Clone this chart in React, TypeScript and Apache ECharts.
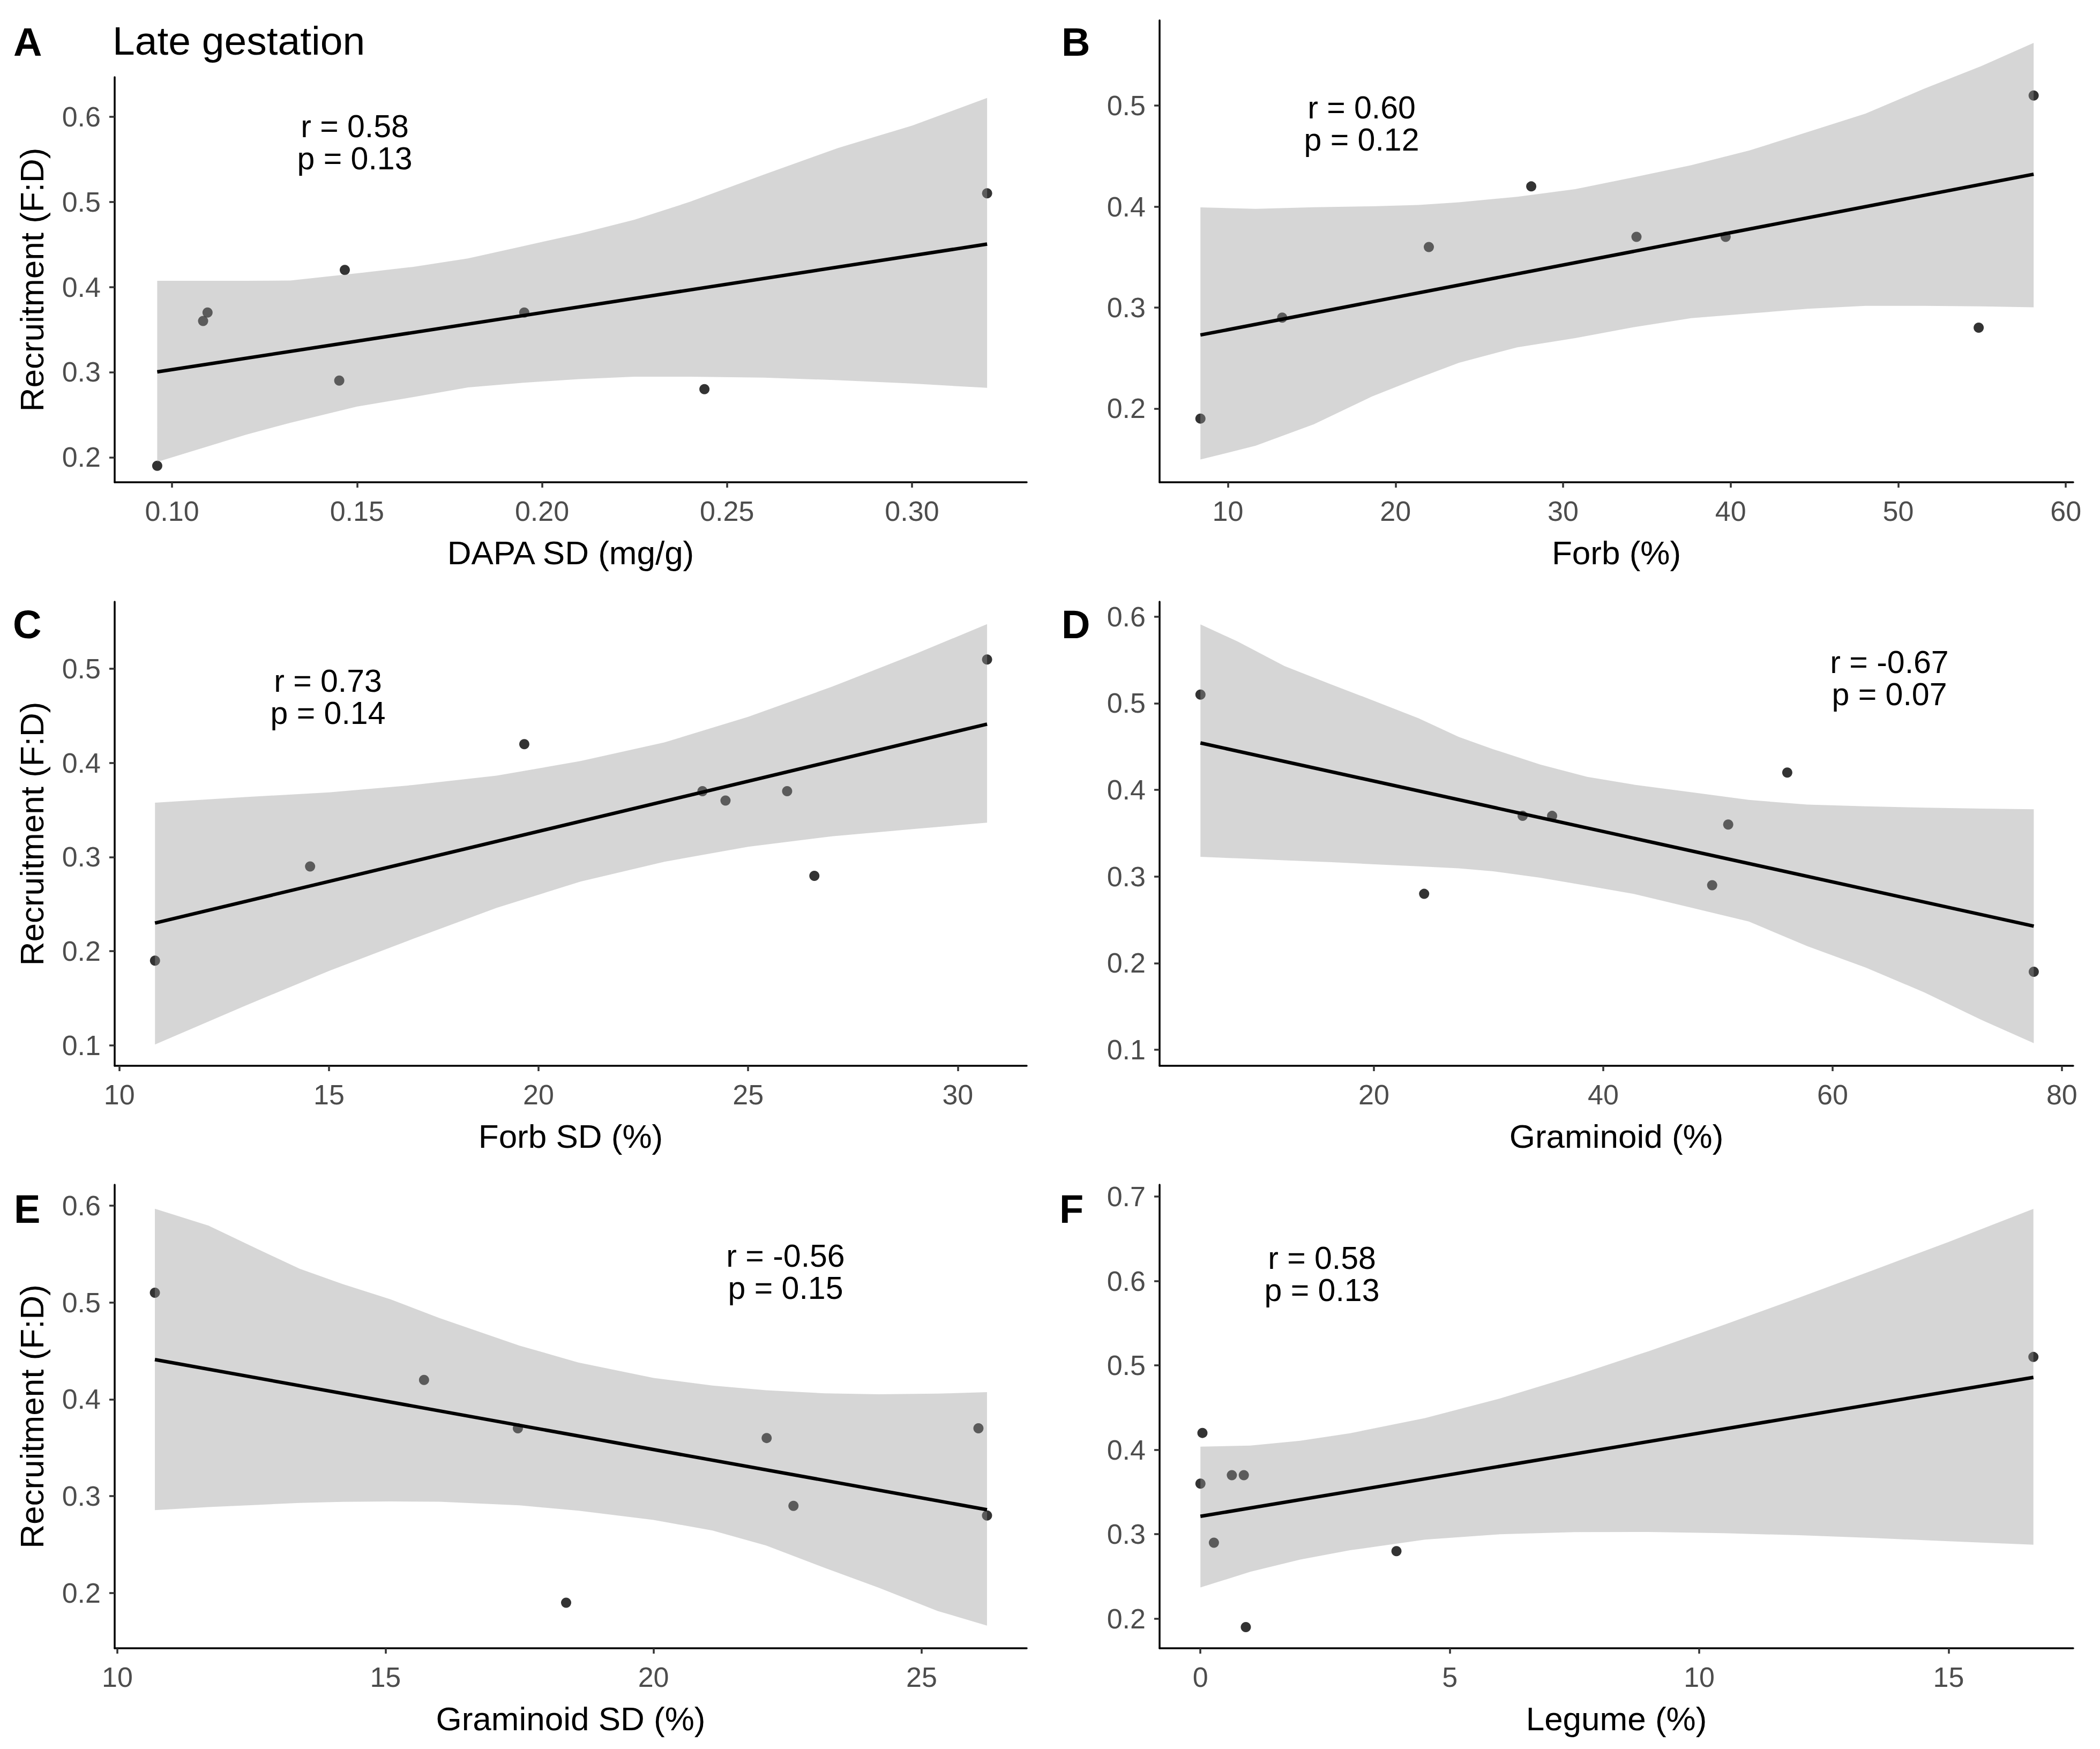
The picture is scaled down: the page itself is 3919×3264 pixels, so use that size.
import React, { useEffect, useRef } from "react";
import * as echarts from "echarts";

const FONT = "'Liberation Sans', Arial, Helvetica, sans-serif";

// Recruitment (F:D) per site, shared by every panel
const recruitment = [0.19, 0.28, 0.29, 0.36, 0.37, 0.37, 0.42, 0.51];

// Predictor values per site, in the same site order as recruitment
const dapaSd = [0.096, 0.2439, 0.1452, 0.1084, 0.1096, 0.1952, 0.1467, 0.3203];
const forb = [8.36, 54.8, 13.24, 21.99, 34.38, 39.7, 28.1, 58.08];
const forbSd = [10.85, 26.58, 14.55, 24.46, 23.91, 25.93, 19.66, 30.7];
const graminoid = [77.55, 24.38, 49.5, 50.9, 32.97, 35.54, 56.05, 4.87];
const graminoidSd = [18.37, 26.22, 22.61, 22.11, 17.47, 26.06, 15.72, 10.7];
const legume = [0.91, 3.93, 0.27, 0.0, 0.63, 0.87, 0.04, 16.7];

// Linear fit end points
const fitDapaSd = [[0.096, 0.3002], [0.3203, 0.4503]];
const fitForb = [[8.36, 0.2728], [58.08, 0.4321]];
const fitForbSd = [[10.85, 0.2299], [30.7, 0.4413]];
const fitGraminoid = [[4.87, 0.4542], [77.55, 0.2427]];
const fitGraminoidSd = [[10.7, 0.441], [26.22, 0.286]];
const fitLegume = [[0, 0.3212], [16.7, 0.4858]];

// Confidence band of each fit: x, lower limit, upper limit
const bandDapaSdX = [0.096, 0.12, 0.132, 0.15, 0.165, 0.18, 0.195, 0.21, 0.225, 0.24, 0.26, 0.28, 0.3, 0.3203];
const bandDapaSdLo = [0.1945, 0.2264, 0.2405, 0.2595, 0.2705, 0.282, 0.2875, 0.2917, 0.2946, 0.2946, 0.2935, 0.2905, 0.2865, 0.2815];
const bandDapaSdHi = [0.4073, 0.4073, 0.4075, 0.416, 0.4235, 0.4335, 0.448, 0.4625, 0.479, 0.5, 0.532, 0.5632, 0.5895, 0.622];

const bandForbX = [8.36, 11.66, 15.13, 18.59, 21.37, 23.79, 27.26, 30.72, 34.19, 37.65, 41.12, 44.58, 48.05, 51.51, 54.98, 58.08];
const bandForbLo = [0.1494, 0.1631, 0.1844, 0.2118, 0.2301, 0.2453, 0.2606, 0.2697, 0.2804, 0.2895, 0.2941, 0.2987, 0.3017, 0.3017, 0.3012, 0.3002];
const bandForbHi = [0.3992, 0.3978, 0.3993, 0.4003, 0.4016, 0.4043, 0.4097, 0.4173, 0.429, 0.441, 0.4556, 0.4738, 0.4921, 0.5165, 0.5394, 0.5622];

const bandForbSdX = [10.85, 13, 15, 17, 19, 21, 23, 25, 27, 29, 30.7];
const bandForbSdLo = [0.1008, 0.142, 0.179, 0.213, 0.246, 0.274, 0.295, 0.311, 0.322, 0.33, 0.3365];
const bandForbSdHi = [0.3578, 0.3637, 0.3688, 0.3765, 0.3865, 0.402, 0.4218, 0.449, 0.481, 0.516, 0.5475];

const bandGraminoidX = [4.87, 8.1, 12.2, 16.3, 19.8, 23.9, 27.4, 30.4, 34.5, 38.6, 42.6, 47.7, 52.7, 57.8, 62.9, 68, 73, 77.55];
const bandGraminoidLo = [0.3227, 0.321, 0.3187, 0.3165, 0.3143, 0.3117, 0.3094, 0.306, 0.2987, 0.2894, 0.2801, 0.264, 0.248, 0.2196, 0.1948, 0.1663, 0.1344, 0.1077];
const bandGraminoidHi = [0.591, 0.5714, 0.543, 0.5216, 0.5039, 0.4826, 0.4612, 0.447, 0.4293, 0.4151, 0.4062, 0.3973, 0.3884, 0.3831, 0.381, 0.3795, 0.3785, 0.3777];

const bandGraminoidSdX = [10.7, 11.7, 12.6, 13.4, 14.2, 15.1, 16.0, 17.5, 18.6, 20.0, 21.1, 22.1, 23.2, 24.2, 25.3, 26.22];
const bandGraminoidSdLo = [0.2855, 0.2887, 0.291, 0.293, 0.2941, 0.2945, 0.2943, 0.2905, 0.285, 0.2755, 0.2645, 0.249, 0.2258, 0.2055, 0.1815, 0.1664];
const bandGraminoidSdHi = [0.5967, 0.5792, 0.5554, 0.5347, 0.5189, 0.503, 0.484, 0.4554, 0.4379, 0.422, 0.4141, 0.4093, 0.4061, 0.4052, 0.4058, 0.4073];

const bandLegumeX = [0, 1, 2, 3, 4.5, 6, 7.5, 9, 10.5, 12, 13.5, 15, 16.7];
const bandLegumeLo = [0.2369, 0.2555, 0.27, 0.281, 0.2936, 0.2999, 0.3025, 0.3027, 0.3012, 0.2988, 0.2955, 0.2917, 0.2876];
const bandLegumeHi = [0.4037, 0.405, 0.4108, 0.4196, 0.4376, 0.4607, 0.4877, 0.5171, 0.5482, 0.5802, 0.6131, 0.6463, 0.6855];

// Tick values
const ticksDapaSd = [0.1, 0.15, 0.2, 0.25, 0.3];
const ticksForb = [10, 20, 30, 40, 50, 60];
const ticksForbSd = [10, 15, 20, 25, 30];
const ticksGraminoid = [20, 40, 60, 80];
const ticksGraminoidSd = [10, 15, 20, 25];
const ticksLegume = [0, 5, 10, 15];
const ticksRecA = [0.2, 0.3, 0.4, 0.5, 0.6];
const ticksRecB = [0.2, 0.3, 0.4, 0.5];
const ticksRecC = [0.1, 0.2, 0.3, 0.4, 0.5];
const ticksRecD = [0.1, 0.2, 0.3, 0.4, 0.5, 0.6];
const ticksRecE = [0.2, 0.3, 0.4, 0.5, 0.6];
const ticksRecF = [0.2, 0.3, 0.4, 0.5, 0.6, 0.7];

// Axis ranges (x min, x max, y min, y max)
const rangeA = [0.0845, 0.331, 0.1706, 0.6464];
const rangeB = [5.923, 60.44, 0.1269, 0.5845];
const rangeC = [9.888, 31.645, 0.0782, 0.5713];
const rangeD = [1.305, 80.99, 0.0815, 0.6172];
const rangeE = [9.95, 26.96, 0.143, 0.6214];
const rangeF = [-0.819, 17.498, 0.1649, 0.714];

// Correlation statistics
const statsA = ["r = 0.58", "p = 0.13"];
const statsB = ["r = 0.60", "p = 0.12"];
const statsC = ["r = 0.73", "p = 0.14"];
const statsD = ["r = -0.67", "p = 0.07"];
const statsE = ["r = -0.56", "p = 0.15"];
const statsF = ["r = 0.58", "p = 0.13"];

const yTitle = "Recruitment (F:D)";

const panels = [
  { letter: "A", x: dapaSd, xName: "DAPA SD (mg/g)", fit: fitDapaSd, bx: bandDapaSdX, lo: bandDapaSdLo, hi: bandDapaSdHi, xt: ticksDapaSd, yt: ticksRecA, range: rangeA, stats: statsA, xDigits: 2 },
  { letter: "B", x: forb, xName: "Forb (%)", fit: fitForb, bx: bandForbX, lo: bandForbLo, hi: bandForbHi, xt: ticksForb, yt: ticksRecB, range: rangeB, stats: statsB, xDigits: 0 },
  { letter: "C", x: forbSd, xName: "Forb SD (%)", fit: fitForbSd, bx: bandForbSdX, lo: bandForbSdLo, hi: bandForbSdHi, xt: ticksForbSd, yt: ticksRecC, range: rangeC, stats: statsC, xDigits: 0 },
  { letter: "D", x: graminoid, xName: "Graminoid (%)", fit: fitGraminoid, bx: bandGraminoidX, lo: bandGraminoidLo, hi: bandGraminoidHi, xt: ticksGraminoid, yt: ticksRecD, range: rangeD, stats: statsD, xDigits: 0 },
  { letter: "E", x: graminoidSd, xName: "Graminoid SD (%)", fit: fitGraminoidSd, bx: bandGraminoidSdX, lo: bandGraminoidSdLo, hi: bandGraminoidSdHi, xt: ticksGraminoidSd, yt: ticksRecE, range: rangeE, stats: statsE, xDigits: 0 },
  { letter: "F", x: legume, xName: "Legume (%)", fit: fitLegume, bx: bandLegumeX, lo: bandLegumeLo, hi: bandLegumeHi, xt: ticksLegume, yt: ticksRecF, range: rangeF, stats: statsF, xDigits: 0 },
];

// Page layout of the six panels (pixels); statsPos = [centre x, centre y of the two-line block]
const layout = [
  { grid: { left: 214, top: 144, width: 1702, height: 756 }, letterPos: [25, 78], statsPos: [662, 265.5], leftCol: true },
  { grid: { left: 2164, top: 38, width: 1705, height: 862 }, letterPos: [1981, 78], statsPos: [2541, 231], leftCol: false },
  { grid: { left: 214, top: 1123, width: 1702, height: 866 }, letterPos: [24, 1165], statsPos: [612, 1300.5], leftCol: true },
  { grid: { left: 2164, top: 1123, width: 1705, height: 866 }, letterPos: [1981, 1165], statsPos: [3526, 1266], leftCol: false },
  { grid: { left: 214, top: 2211, width: 1702, height: 865 }, letterPos: [26, 2256], statsPos: [1466, 2373.5], leftCol: true },
  { grid: { left: 2164, top: 2211, width: 1705, height: 865 }, letterPos: [1977, 2256], statsPos: [2467, 2378], leftCol: false },
];

const TICK_FONT = 52;
const TITLE_FONT = 62;
const STATS_FONT = 59;

function buildOption() {
  const grid: any[] = [];
  const xAxis: any[] = [];
  const yAxis: any[] = [];
  const series: any[] = [];
  const graphic: any[] = [];

  panels.forEach((p, i) => {
    const l = layout[i];
    grid.push({ ...l.grid, containLabel: false });

    const axisCommon = {
      type: "value",
      gridIndex: i,
      splitLine: { show: false },
      axisLine: { show: true, onZero: false, lineStyle: { color: "#000000", width: 3.5 } },
      axisTick: { show: true, length: 10, lineStyle: { color: "#333333", width: 3.5 } },
    };

    xAxis.push({
      ...axisCommon,
      min: p.range[0],
      max: p.range[1],
      axisTick: { ...axisCommon.axisTick, customValues: p.xt },
      axisLabel: {
        customValues: p.xt,
        margin: 28,
        color: "#4D4D4D",
        fontSize: TICK_FONT,
        fontFamily: FONT,
        formatter: (v: number) => v.toFixed(p.xDigits),
      },
      name: p.xName,
      nameLocation: "middle",
      nameGap: 100,
      nameTextStyle: { color: "#000000", fontSize: TITLE_FONT, fontFamily: FONT },
    });

    yAxis.push({
      ...axisCommon,
      min: p.range[2],
      max: p.range[3],
      axisTick: { ...axisCommon.axisTick, customValues: p.yt },
      axisLabel: {
        customValues: p.yt,
        margin: 26,
        color: "#4D4D4D",
        fontSize: TICK_FONT,
        fontFamily: FONT,
        formatter: (v: number) => v.toFixed(1),
      },
      name: l.leftCol ? yTitle : "",
      nameLocation: "middle",
      nameGap: 124,
      nameTextStyle: { color: "#000000", fontSize: TITLE_FONT, fontFamily: FONT },
    });

    // observations
    series.push({
      type: "scatter",
      xAxisIndex: i,
      yAxisIndex: i,
      data: p.x.map((xv, k) => [xv, recruitment[k]]),
      symbol: "circle",
      symbolSize: 19,
      itemStyle: { color: "#000000" },
      z: 2,
      silent: true,
    });

    // confidence band, drawn over the points
    series.push({
      type: "custom",
      xAxisIndex: i,
      yAxisIndex: i,
      data: [[p.bx[0], p.lo[0]]],
      z: 3,
      silent: true,
      renderItem: (_params: any, api: any) => {
        const upper = p.bx.map((xv, k) => api.coord([xv, p.hi[k]]));
        const lower = p.bx.map((xv, k) => api.coord([xv, p.lo[k]])).reverse();
        return {
          type: "polygon",
          shape: { points: upper.concat(lower) },
          style: { fill: "rgba(153,153,153,0.4)", stroke: "none" },
        };
      },
    });

    // fitted line
    series.push({
      type: "line",
      xAxisIndex: i,
      yAxisIndex: i,
      data: p.fit,
      symbol: "none",
      lineStyle: { color: "#000000", width: 6.5 },
      z: 4,
      silent: true,
    });

    // panel letter
    graphic.push({
      type: "text",
      x: l.letterPos[0],
      y: l.letterPos[1],
      style: {
        text: p.letter,
        fontSize: 74,
        fontWeight: "bold",
        fontFamily: FONT,
        fill: "#000000",
        align: "left",
        verticalAlign: "middle",
      },
    });

    // r / p annotation
    graphic.push({
      type: "text",
      x: l.statsPos[0],
      y: l.statsPos[1],
      style: {
        text: p.stats.join("\n"),
        fontSize: STATS_FONT,
        lineHeight: 60,
        fontFamily: FONT,
        fill: "#000000",
        align: "center",
        verticalAlign: "middle",
      },
    });
  });

  graphic.push({
    type: "text",
    x: 210,
    y: 76,
    style: {
      text: "Late gestation",
      fontSize: 75,
      fontFamily: FONT,
      fill: "#000000",
      align: "left",
      verticalAlign: "middle",
    },
  });

  return {
    animation: false,
    backgroundColor: "#ffffff",
    grid,
    xAxis,
    yAxis,
    series,
    graphic,
  };
}

export default function App() {
  const ref = useRef<HTMLDivElement>(null);

  useEffect(() => {
    if (!ref.current) return;
    const chart = echarts.init(ref.current, undefined, { renderer: "svg" });
    chart.setOption(buildOption());
    return () => chart.dispose();
  }, []);

  return (
    <div
      ref={ref}
      style={{ position: "absolute", left: 0, top: 0, width: 3919, height: 3264, background: "#ffffff" }}
    />
  );
}
